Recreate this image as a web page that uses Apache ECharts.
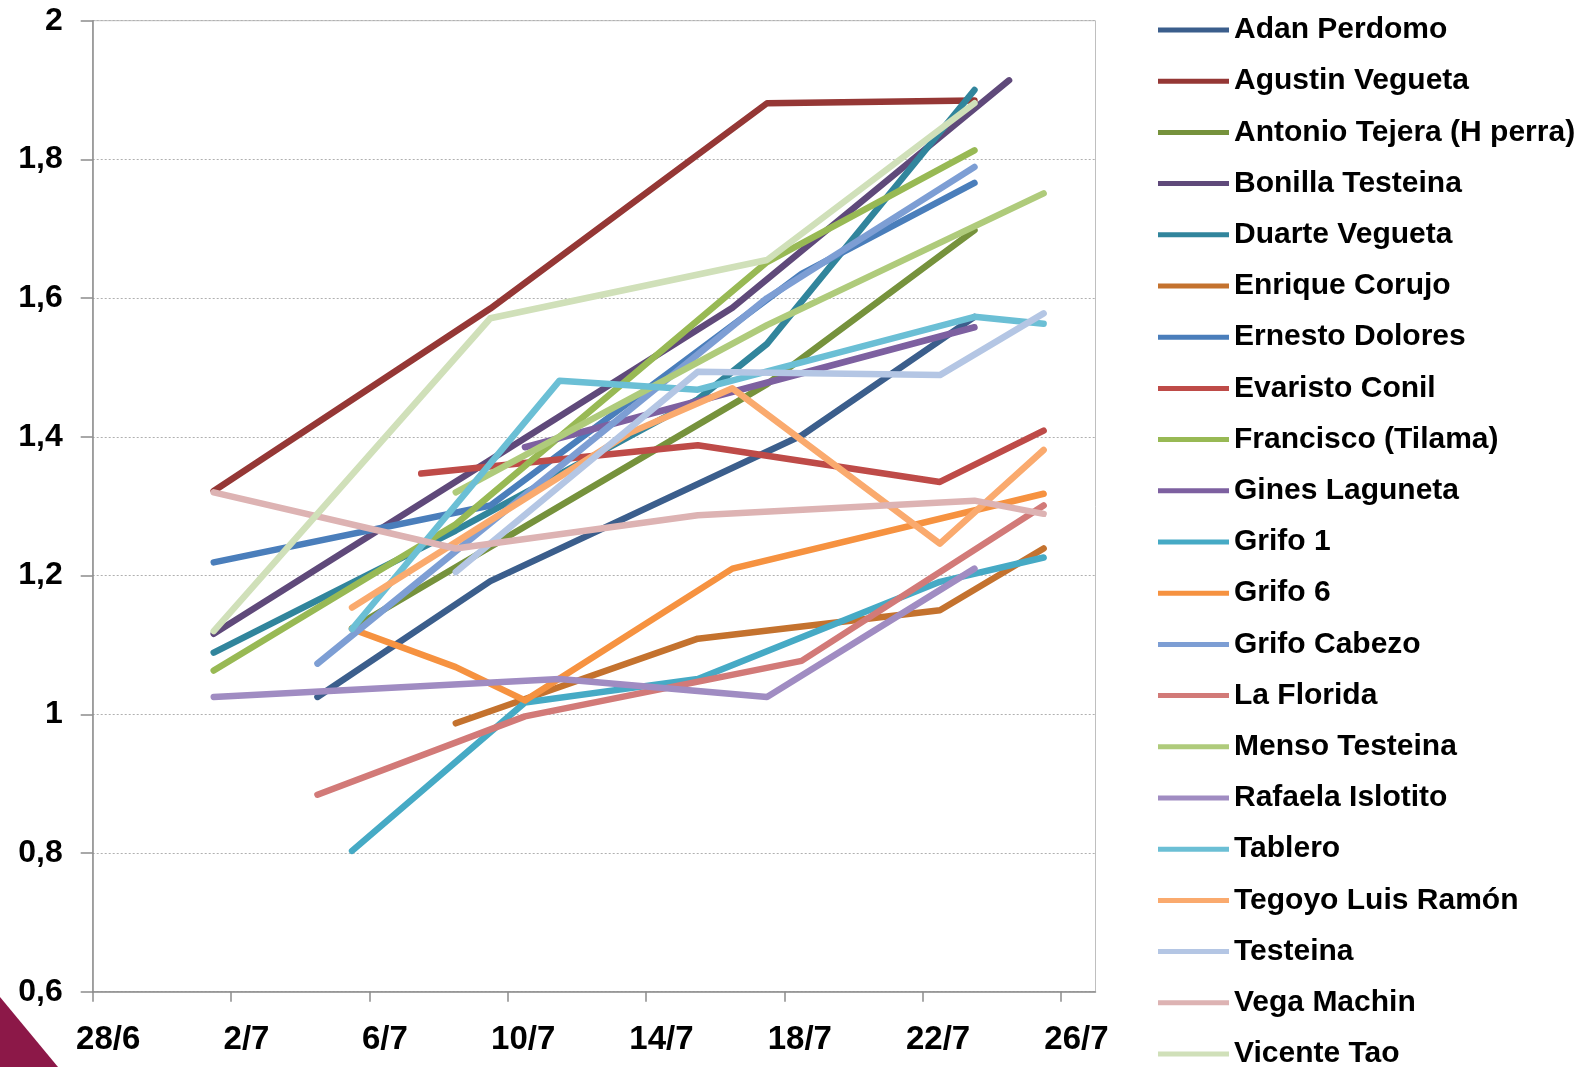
<!DOCTYPE html>
<html>
<head>
<meta charset="utf-8">
<script src="https://cdn.jsdelivr.net/npm/echarts@6/dist/echarts.min.js"></script>
<style>
html,body{margin:0;padding:0;background:#fff;}
#chart{width:1594px;height:1067px;}
</style>
</head>
<body>
<div id="chart"></div>
<script>
// ---- data (dates d/m, values) ----
const seriesNames = ['Adan Perdomo','Agustin Vegueta','Antonio Tejera (H perra)','Bonilla Testeina','Duarte Vegueta','Enrique Corujo','Ernesto Dolores','Evaristo Conil','Francisco (Tilama)','Gines Laguneta','Grifo 1','Grifo 6','Grifo Cabezo','La Florida','Menso Testeina','Rafaela Islotito','Tablero','Tegoyo Luis Ramón','Testeina','Vega Machin','Vicente Tao'];

const adanDates = ['4/7','9/7','18/7','23/7'];
const adanValues = [1.025,1.192,1.402,1.573];
const agustinDates = ['1/7','9/7','17/7','23/7'];
const agustinValues = [1.322,1.585,1.881,1.885];
const antonioDates = ['5/7','17/7','23/7'];
const antonioValues = [1.124,1.476,1.698];
const bonillaDates = ['1/7','16/7','24/7'];
const bonillaValues = [1.116,1.586,1.914];
const duarteDates = ['1/7','8/7','15/7','17/7','23/7'];
const duarteValues = [1.089,1.265,1.454,1.534,1.900];
const enriqueDates = ['8/7','15/7','22/7','25/7'];
const enriqueValues = [0.987,1.109,1.150,1.239];
const ernestoDates = ['1/7','9/7','18/7','23/7'];
const ernestoValues = [1.219,1.301,1.635,1.766];
const evaristoDates = ['7/7','15/7','22/7','25/7'];
const evaristoValues = [1.347,1.388,1.335,1.409];
const franciscoDates = ['1/7','8/7','17/7','23/7'];
const franciscoValues = [1.063,1.274,1.652,1.813];
const ginesDates = ['10/7','23/7'];
const ginesValues = [1.385,1.558];
const grifo1Dates = ['5/7','10/7','15/7','22/7','25/7'];
const grifo1Values = [0.803,1.017,1.051,1.191,1.226];
const grifo6Dates = ['5/7','8/7','10/7','16/7','25/7'];
const grifo6Values = [1.123,1.068,1.020,1.210,1.318];
const cabezoDates = ['4/7','17/7','23/7'];
const cabezoValues = [1.073,1.600,1.789];
const floridaDates = ['4/7','10/7','18/7','25/7'];
const floridaValues = [0.884,0.997,1.077,1.301];
const mensoDates = ['8/7','17/7','25/7'];
const mensoValues = [1.320,1.561,1.751];
const rafaelaDates = ['1/7','11/7','17/7','23/7'];
const rafaelaValues = [1.025,1.051,1.025,1.210];
const tableroDates = ['5/7','11/7','15/7','23/7','25/7'];
const tableroValues = [1.123,1.481,1.468,1.573,1.563];
const tegoyoDates = ['5/7','13/7','16/7','22/7','25/7'];
const tegoyoValues = [1.154,1.405,1.470,1.246,1.381];
const testeinaDates = ['8/7','15/7','22/7','25/7'];
const testeinaValues = [1.205,1.494,1.489,1.578];
const vegaDates = ['1/7','8/7','15/7','23/7','25/7'];
const vegaValues = [1.320,1.239,1.287,1.308,1.289];
const vicenteDates = ['1/7','9/7','17/7','23/7'];
const vicenteValues = [1.120,1.571,1.655,1.881];

const xTickDays = [0,4,8,12,16,20,24,28];   // 28/6 ... 26/7
const yMin = 0.6, yMax = 2.0, yStep = 0.2;

// ---- styles ----
const colors = ['#3B5E8C','#953735','#76923C','#5F497A','#31859C','#C4722E','#4A7EBB','#BE4B48','#98B954','#7D60A0','#46AAC5','#F69240','#7D9ED4','#D27A78','#AFCB7B','#A08CC2','#6BBFD5','#FAAA6E','#B4C6E4','#DDB3B3','#D0E0B9'];

const allDates = [adanDates,agustinDates,antonioDates,bonillaDates,duarteDates,enriqueDates,ernestoDates,evaristoDates,franciscoDates,ginesDates,grifo1Dates,grifo6Dates,cabezoDates,floridaDates,mensoDates,rafaelaDates,tableroDates,tegoyoDates,testeinaDates,vegaDates,vicenteDates];
const allValues = [adanValues,agustinValues,antonioValues,bonillaValues,duarteValues,enriqueValues,ernestoValues,evaristoValues,franciscoValues,ginesValues,grifo1Values,grifo6Values,cabezoValues,floridaValues,mensoValues,rafaelaValues,tableroValues,tegoyoValues,testeinaValues,vegaValues,vicenteValues];

const BASE = Date.UTC(2010,5,28);
function dayIndex(s){ const p=s.split('/'); return Math.round((Date.UTC(2010,+p[1]-1,+p[0])-BASE)/86400000); }
// Excel date axis: each day's point sits in the middle of its day slot
function xOf(s){ return dayIndex(s)+0.5; }
function dayLabel(v){ const d=new Date(BASE+v*86400000); return d.getUTCDate()+'/'+(d.getUTCMonth()+1); }

const FONT = '"Liberation Sans", Arial, sans-serif';

const series = seriesNames.map((name,i)=>({
  name:name, type:'line', showSymbol:false, symbol:'none',
  data: allDates[i].map((d,k)=>[xOf(d), allValues[i][k]]),
  lineStyle:{color:colors[i], width:6.5, cap:'round', join:'round'},
  itemStyle:{color:colors[i]},
  emphasis:{disabled:true}, z:2
}));

const chart = echarts.init(document.getElementById('chart'), null, {renderer:'canvas'});
chart.setOption({
  animation:false,
  backgroundColor:'#ffffff',
  grid:{left:92.7, right:498.5, top:20.7, bottom:75.3, show:true, borderColor:'#BFBFBF', borderWidth:1, backgroundColor:'transparent'},
  xAxis:{
    type:'value', min:0, max:29, interval:4,
    axisLine:{show:true, lineStyle:{color:'#8C8C8C', width:1.5}},
    axisTick:{show:true, length:10, lineStyle:{color:'#8C8C8C', width:1.5}, customValues:xTickDays},
    axisLabel:{show:true, customValues:xTickDays, formatter:v=>dayLabel(v), margin:32, padding:[0,0,0,31], color:'#000', fontFamily:FONT, fontWeight:'bold', fontSize:33},
    splitLine:{show:false}
  },
  yAxis:{
    type:'value', min:yMin, max:yMax, interval:yStep,
    axisLine:{show:true, lineStyle:{color:'#8C8C8C', width:1.5}},
    axisTick:{show:true, length:12, inside:false, lineStyle:{color:'#8C8C8C', width:1.5}},
    axisLabel:{margin:30, color:'#000', fontFamily:FONT, fontWeight:'bold', fontSize:32,
      formatter:v=>{ const r=Math.round(v*10)/10; return (Number.isInteger(r)? String(r) : r.toFixed(1)).replace('.',','); }},
    splitLine:{show:true, lineStyle:{color:'#B0B0B0', width:1, type:[2,2]}}
  },
  legend:{
    orient:'vertical', left:1153, top:15, height:1100, padding:[0,5], icon:'rect', itemWidth:71, itemHeight:5, itemGap:21.2,
    textStyle:{color:'#000', fontFamily:FONT, fontWeight:'bold', fontSize:30, lineHeight:30},
    data:seriesNames
  },
  graphic:[
    {type:'polygon', shape:{points:[[0,997],[58,1067],[0,1067]]}, style:{fill:'#8C1848'}}
  ],
  series:series
});
</script>
</body>
</html>
